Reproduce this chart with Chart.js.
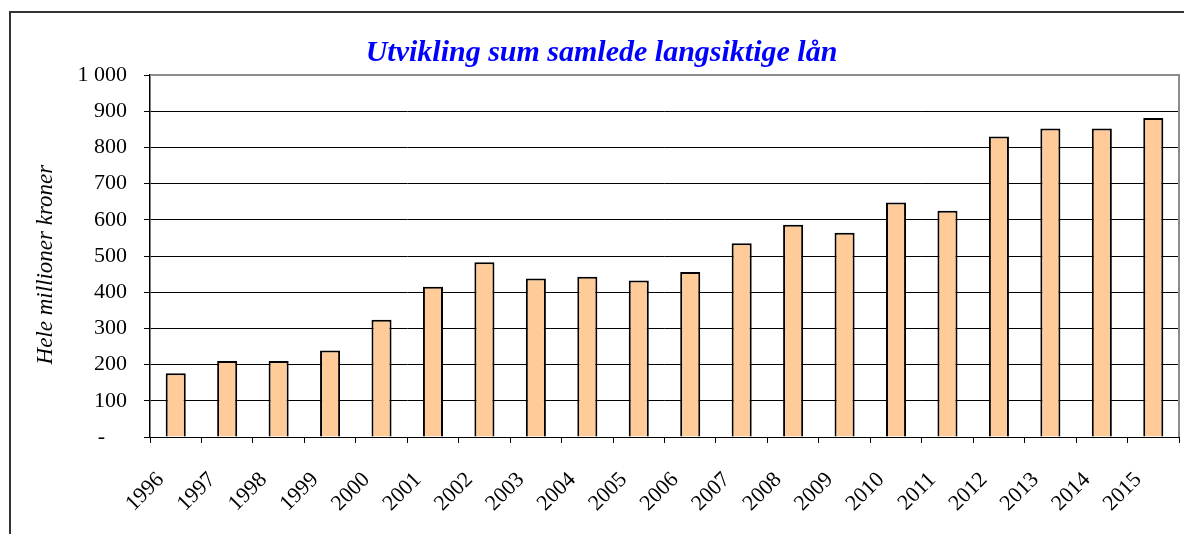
<!DOCTYPE html>
<html>
<head>
<meta charset="utf-8">
<script src="https://cdn.jsdelivr.net/npm/chart.js@4"></script>
<style>
  html, body { margin: 0; padding: 0; background: #fff; }
  #wrap { position: absolute; left: 0; top: 0; width: 1184px; height: 534px; }
</style>
</head>
<body>
<div id="wrap"><canvas id="c" width="1184" height="534"></canvas></div>
<script>
const categories = ['1996','1997','1998','1999','2000','2001','2002','2003','2004','2005','2006','2007','2008','2009','2010','2011','2012','2013','2014','2015'];
const loanValues = [176, 210, 210, 239, 324, 415, 483, 438, 443, 432, 456, 535, 586, 564, 648, 625, 830, 852, 852, 881];
const yTickValues = [0, 100, 200, 300, 400, 500, 600, 700, 800, 900, 1000];
const yTickLabels = ['-    ', '100', '200', '300', '400', '500', '600', '700', '800', '900', '1 000'];
const chartTitle = 'Utvikling sum samlede langsiktige lån';
const yAxisTitle = 'Hele millioner kroner   ';

const serif = '"Liberation Serif", "Times New Roman", "DejaVu Serif", serif';

const framePlugin = {
  id: 'frame',
  beforeDraw(chart) {
    const ctx = chart.ctx;
    ctx.save();
    ctx.fillStyle = '#fff';
    ctx.fillRect(0, 0, chart.width, chart.height);
    ctx.strokeStyle = '#333';
    ctx.lineWidth = 2;
    ctx.strokeRect(10, 12, 1400, 700);
    ctx.restore();
  },
  afterDatasetsDraw(chart) {
    const a = chart.chartArea;
    const ctx = chart.ctx;
    ctx.save();
    ctx.strokeStyle = '#8c8c8c';
    ctx.lineWidth = 2;
    ctx.beginPath();
    ctx.moveTo(a.left, a.top);
    ctx.lineTo(a.right, a.top);
    ctx.lineTo(a.right, a.bottom);
    ctx.stroke();
    ctx.restore();
  }
};

new Chart(document.getElementById('c'), {
  type: 'bar',
  data: {
    labels: categories,
    datasets: [{
      data: loanValues,
      backgroundColor: '#FFCC99',
      borderColor: '#000000',
      borderWidth: 2,
      categoryPercentage: 1.0,
      barPercentage: 0.39
    }]
  },
  options: {
    responsive: false,
    animation: false,
    devicePixelRatio: 1,
    layout: { padding: { left: 24, right: 5, top: 0, bottom: 0 } },
    plugins: {
      legend: { display: false },
      tooltip: { enabled: false },
      title: {
        display: true,
        text: chartTitle,
        color: '#0000FF',
        font: { family: serif, size: 30, style: 'italic', weight: 'bold', lineHeight: 1.2 },
        padding: { top: 35, bottom: 4 }
      }
    },
    scales: {
      x: {
        offset: true,
        grid: {
          offset: true,
          drawOnChartArea: false,
          drawTicks: true,
          tickLength: 6,
          tickColor: '#000',
          lineWidth: 1
        },
        border: { display: true, color: '#000', width: 1 },
        ticks: {
          color: '#000',
          font: { family: serif, size: 22 },
          minRotation: 45,
          maxRotation: 45,
          autoSkip: false,
          padding: 24,
          labelOffset: -15
        },
        afterFit(scale) {
          scale.height = 97;
          scale.paddingLeft = 0;
          scale.paddingRight = 0;
        }
      },
      y: {
        min: 0,
        max: 1000,
        afterBuildTicks(scale) { scale.ticks = yTickValues.map(v => ({ value: v })); },
        grid: {
          color: (c) => (c.tick && c.tick.value === 1000) ? '#8c8c8c' : '#000',
          lineWidth: 1,
          drawTicks: true,
          tickLength: 6,
          tickColor: '#000'
        },
        border: { display: true, color: '#000', width: 1.5 },
        ticks: {
          color: '#000',
          font: { family: serif, size: 22 },
          padding: 17,
          callback(value) {
            const i = yTickValues.indexOf(value);
            return i >= 0 ? yTickLabels[i] : '';
          }
        },
        title: {
          display: true,
          text: yAxisTitle,
          color: '#000',
          font: { family: serif, size: 23, style: 'italic', lineHeight: 1.2 },
          padding: { top: 8, bottom: 0 }
        },
        afterFit(scale) {
          scale.width = 126;
          scale.paddingTop = 0;
          scale.paddingBottom = 0;
        }
      }
    }
  },
  plugins: [framePlugin]
});
</script>
</body>
</html>
